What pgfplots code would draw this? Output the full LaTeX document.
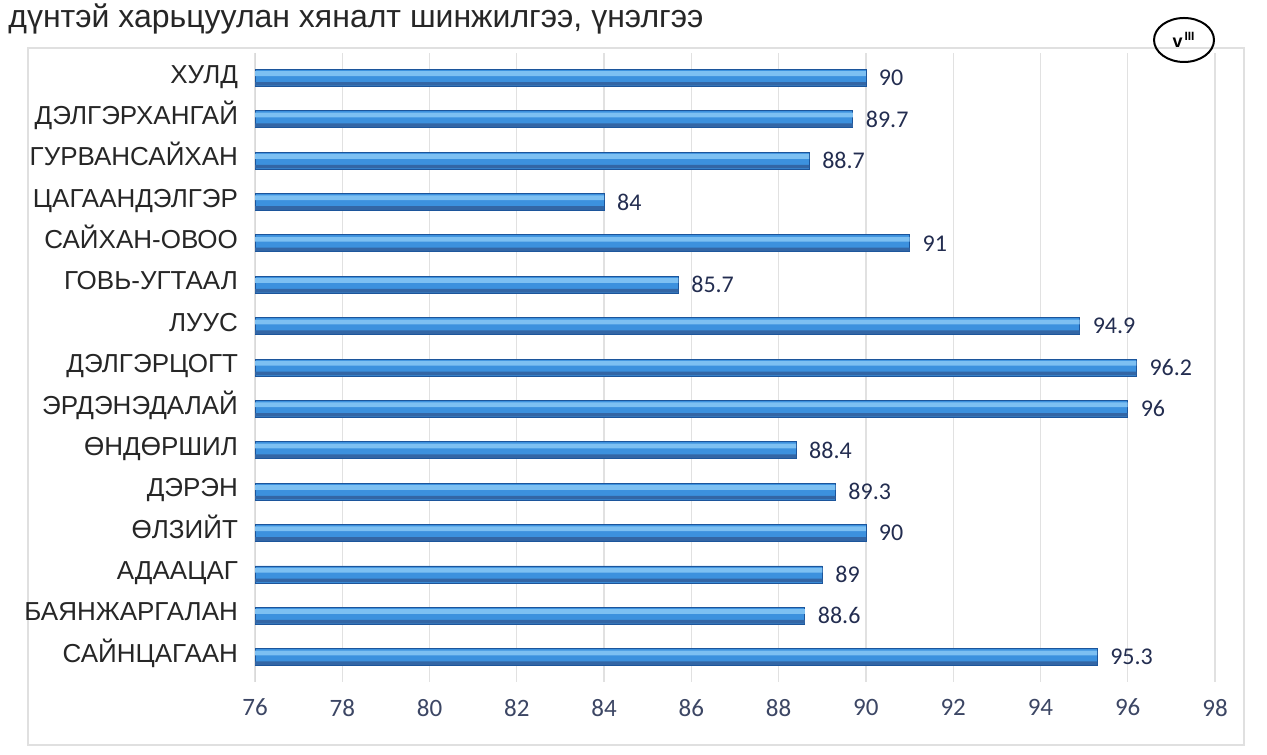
\documentclass[border=0pt]{standalone}
\usepackage{fontspec}
\setmainfont{Liberation Sans}
\newfontfamily\calibri{Carlito}
\usepackage{pgfplots}
\pgfplotsset{compat=1.18}
\usepackage{pgfplotstable}

\definecolor{barlight}{RGB}{125,192,242}
\definecolor{barmid}{RGB}{60,145,222}
\definecolor{bardark}{RGB}{28,85,155}
\definecolor{valnavy}{RGB}{35,45,80}
\definecolor{ticknavy}{RGB}{60,70,100}
\definecolor{gridgray}{RGB}{225,225,225}

% index 0 = top category
\pgfplotstableread{
idx value
0  90
1  89.7
2  88.7
3  84
4  91
5  85.7
6  94.9
7  96.2
8  96
9  88.4
10 89.3
11 90
12 89
13 88.6
14 95.3
}\scores

\begin{document}
\begin{tikzpicture}
\clip (0pt,0pt) rectangle (633.5pt,377pt);
\path (0pt,0pt) rectangle (633.5pt,377pt);

% page header (cut off in the scan)
\node[anchor=base west, inner sep=0pt, font=\fontsize{16}{18}\selectfont, text=black!85]
  at (4pt,363pt) {дүнтэй харьцуулан хяналт шинжилгээ, үнэлгээ};

% chart frame
\draw[black!12, line width=0.6pt] (14pt,4.5pt) rectangle (622pt,353pt);

% handwritten mark
\draw[line width=1pt] (592pt,357pt) ellipse (15pt and 11pt);
\node[font=\fontsize{9}{9}\selectfont\bfseries] at (592pt,357pt) {v\textsuperscript{\,III}};

\begin{axis}[
    at={(127.5pt,36pt)}, anchor=south west,
    width=480pt, height=314.5pt,
    scale only axis,
    xmin=76, xmax=98,
    xtick={76,78,...,98},
    ymin=-0.6, ymax=14.6,
    y dir=reverse,
    ytick={0,...,14},
    yticklabels={ХУЛД,ДЭЛГЭРХАНГАЙ,ГУРВАНСАЙХАН,ЦАГААНДЭЛГЭР,САЙХАН-ОВОО,ГОВЬ-УГТААЛ,ЛУУС,ДЭЛГЭРЦОГТ,ЭРДЭНЭДАЛАЙ,ӨНДӨРШИЛ,ДЭРЭН,ӨЛЗИЙТ,АДААЦАГ,БАЯНЖАРГАЛАН,САЙНЦАГААН},
    separate axis lines,
    y axis line style={draw=black!15},
    x axis line style={draw=none},
    axis x line*=bottom,
    axis y line*=left,
    major tick length=0pt,
    xmajorgrids,
    grid style={gridgray, line width=0.6pt},
    /pgf/number format/assume math mode=true,
    xticklabel style={font=\calibri\fontsize{12.5}{14}\selectfont, text=ticknavy, yshift=-5pt},
    yticklabel style={font=\fontsize{13}{15}\selectfont, text=black!85, xshift=-5pt,
                      text height=0.72em, text depth=0.2em},
    xbar, bar width=8.5pt,
]
% bar body
\addplot[bar shift=0pt, fill=barmid, draw=bardark, line width=0.4pt,
         point meta=x, nodes near coords, nodes near coords align={horizontal},
         every node near coord/.append style={font=\calibri\fontsize{12}{14}\selectfont,
             text=valnavy, anchor=west, xshift=3pt}]
  table[x=value, y=idx] {\scores};
% top highlight
\addplot[bar shift=2.1pt, bar width=2.4pt, fill=barlight, draw=none]
  table[x=value, y=idx] {\scores};
% lower shadow
\addplot[bar shift=-3pt, bar width=1.8pt, fill=bardark!90, draw=none]
  table[x=value, y=idx] {\scores};
\end{axis}
\end{tikzpicture}
\end{document}
